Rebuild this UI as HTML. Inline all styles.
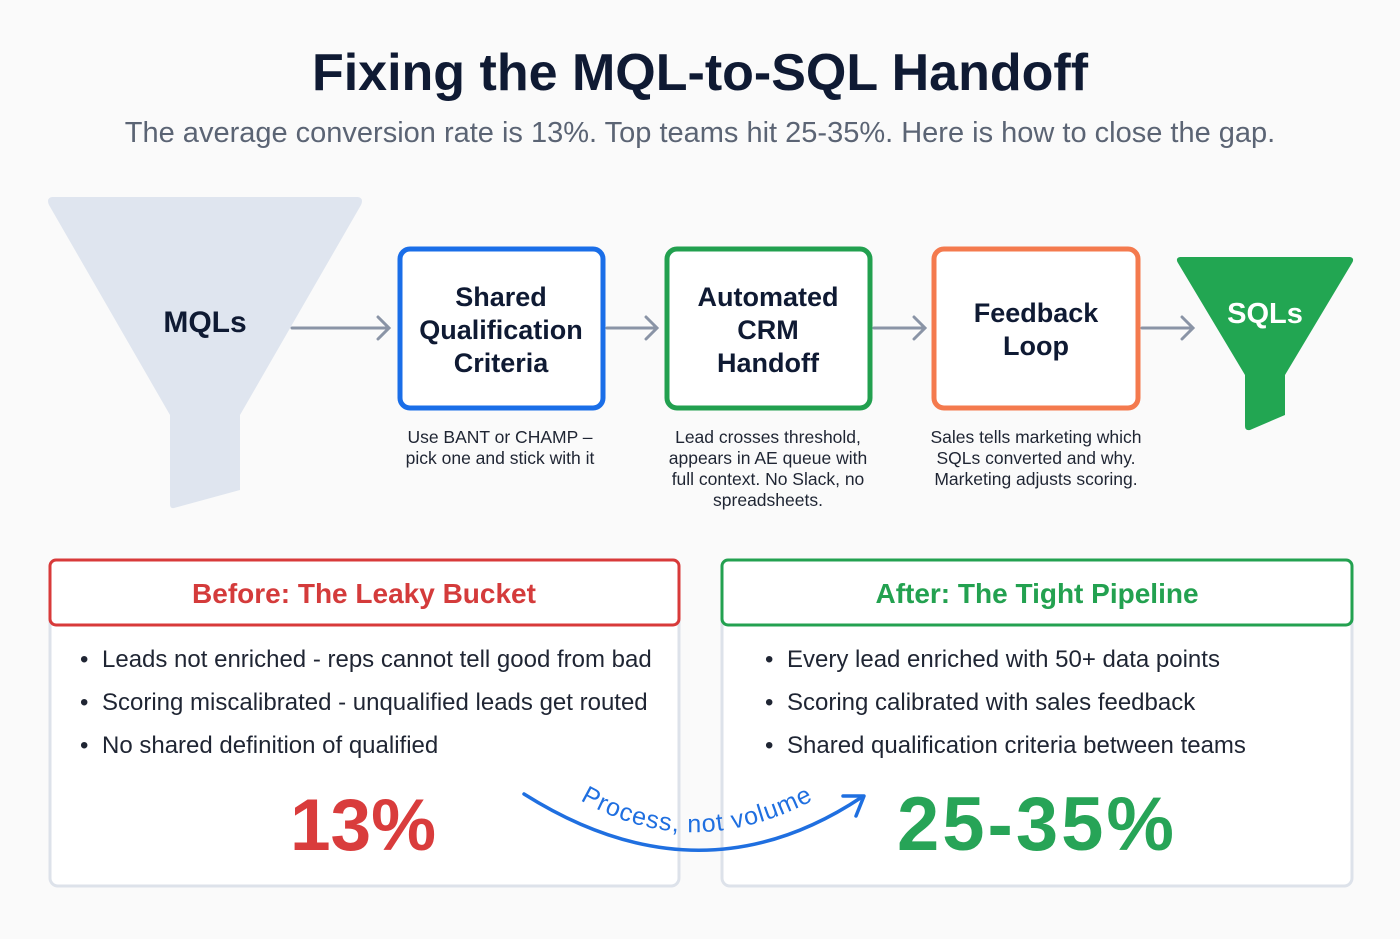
<!DOCTYPE html>
<html><head><meta charset="utf-8"><style>
body{margin:0;background:#fafafa;}
svg{display:block;font-family:"Liberation Sans",sans-serif;}
</style></head><body>
<svg width="1400" height="939" viewBox="0 0 1400 939">
<rect width="1400" height="939" fill="#fafafa"/>
<text x="700" y="90" text-anchor="middle" font-size="52" font-weight="bold" fill="#0f1a33">Fixing the MQL-to-SQL Handoff</text>
<text x="700" y="142" text-anchor="middle" font-size="29" fill="#5b6474">The average conversion rate is 13%. Top teams hit 25-35%. Here is how to close the gap.</text>

<g>
<path d="M52,197 L358,197 Q364,198 361,205 L240,415 L240,490 L174,508 Q170,509 170,504 L170,415 L49,205 Q46,198 52,197 Z" fill="#dfe5ef"/>
<text x="205" y="332" text-anchor="middle" font-size="30" font-weight="bold" fill="#0f1a33">MQLs</text>
</g>

<g stroke="#8a94a6" stroke-width="3" fill="none" stroke-linecap="round">
<path d="M292,328 H388 M378,317 L389,328 L378,339"/>
<path d="M607,328 H656 M646,317 L657,328 L646,339"/>
<path d="M874,328 H924 M914,317 L925,328 L914,339"/>
<path d="M1142,328 H1192 M1182,317 L1193,328 L1182,339"/>
</g>

<g font-size="27" font-weight="bold" fill="#0f1a33" text-anchor="middle">
<g>
<rect x="400" y="249" width="203" height="159" rx="10" fill="#fff" stroke="#1a6ee8" stroke-width="5"/>
<text x="501" y="306">Shared</text><text x="501" y="339">Qualification</text><text x="501" y="372">Criteria</text>
</g>
<g>
<rect x="667" y="249" width="203" height="159" rx="10" fill="#fff" stroke="#22a04f" stroke-width="5"/>
<text x="768" y="306">Automated</text><text x="768" y="339">CRM</text><text x="768" y="372">Handoff</text>
</g>
<g>
<rect x="934" y="249" width="204" height="159" rx="10" fill="#fff" stroke="#f47a4e" stroke-width="5"/>
<text x="1036" y="322">Feedback</text><text x="1036" y="355">Loop</text>
</g>
</g>

<g font-size="17.5" fill="#1f2533" text-anchor="middle">
<g><text x="500" y="443">Use BANT or CHAMP –</text><text x="500" y="464">pick one and stick with it</text></g>
<g><text x="768" y="443">Lead crosses threshold,</text><text x="768" y="464">appears in AE queue with</text><text x="768" y="485">full context. No Slack, no</text><text x="768" y="506">spreadsheets.</text></g>
<g><text x="1036" y="443">Sales tells marketing which</text><text x="1036" y="464">SQLs converted and why.</text><text x="1036" y="485">Marketing adjusts scoring.</text></g>
</g>

<g>
<path d="M1180,257 L1350,257 Q1355,258 1352,263 L1285,375 L1285,415 L1250,430 Q1245,431 1245,426 L1245,375 L1178,263 Q1175,258 1180,257 Z" fill="#22a652"/>
<text x="1265" y="323" text-anchor="middle" font-size="29" font-weight="bold" fill="#fff">SQLs</text>
</g>

<g>
<rect x="50" y="560" width="629" height="326" rx="8" fill="#fff" stroke="#dde2ea" stroke-width="3"/>
<rect x="50" y="560" width="629" height="65" rx="6" fill="#fff" stroke="#d83a3a" stroke-width="3"/>
<text x="364" y="603" text-anchor="middle" font-size="28" font-weight="bold" fill="#d43b3b">Before: The Leaky Bucket</text>
<g font-size="24" fill="#1f2533">
<text x="80" y="667">•</text><text x="102" y="667">Leads not enriched - reps cannot tell good from bad</text>
<text x="80" y="710">•</text><text x="102" y="710">Scoring miscalibrated - unqualified leads get routed</text>
<text x="80" y="753">•</text><text x="102" y="753">No shared definition of qualified</text>
</g>
<text x="363" y="850" text-anchor="middle" font-size="73" font-weight="bold" fill="#d93c3c">13%</text>
</g>

<g>
<rect x="722" y="560" width="630" height="326" rx="8" fill="#fff" stroke="#dde2ea" stroke-width="3"/>
<rect x="722" y="560" width="630" height="65" rx="6" fill="#fff" stroke="#23a150" stroke-width="3"/>
<text x="1037" y="603" text-anchor="middle" font-size="28" font-weight="bold" fill="#23a150">After: The Tight Pipeline</text>
<g font-size="24" fill="#1f2533">
<text x="765" y="667">•</text><text x="787" y="667">Every lead enriched with 50+ data points</text>
<text x="765" y="710">•</text><text x="787" y="710">Scoring calibrated with sales feedback</text>
<text x="765" y="753">•</text><text x="787" y="753">Shared qualification criteria between teams</text>
</g>
<text x="1037" y="850" text-anchor="middle" font-size="76" font-weight="bold" letter-spacing="3" fill="#27a457">25-35%</text>
</g>

<g>
<path d="M524,794 Q700,905 862,797" fill="none" stroke="#1f6fe0" stroke-width="3.5" stroke-linecap="round"/>
<path d="M843,796 L864,796 L856,816" fill="none" stroke="#1f6fe0" stroke-width="3.5" stroke-linecap="round" stroke-linejoin="round"/>
<path id="tp" d="M580,800 Q700,870 835,788" fill="none"/>
<text font-size="25" letter-spacing="1" fill="#1f6fe0"><textPath href="#tp" startOffset="0">Process, not volume</textPath></text>
</g>
</svg>
</body></html>
